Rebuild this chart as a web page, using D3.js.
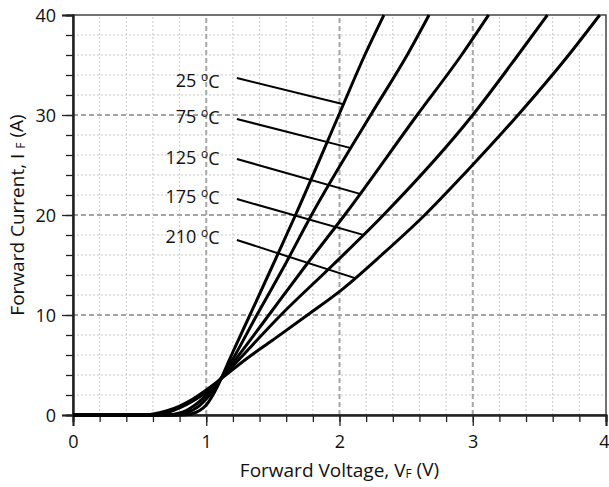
<!DOCTYPE html>
<html>
<head>
<meta charset="utf-8">
<script src="https://cdn.jsdelivr.net/npm/d3@7"></script>
<style>
  html, body { margin: 0; padding: 0; background: #fff; }
  svg text { font-family: "Open Sans", "Noto Sans", sans-serif; fill: #111; }
</style>
</head>
<body>
<div id="chart"></div>
<script>
const width = 609;
const height = 487;
const margin = { top: 15, right: 3, bottom: 72, left: 73 };

// temperatures of the five curves
const temps = ["25", "75", "125", "175", "210"];

// forward voltage (V) / forward current (A)
const v25 = [0, 0.8, 0.85, 0.9, 0.95, 1.0, 1.05, 1.1, 1.15, 1.2, 1.3, 1.5, 1.67, 1.995, 2.19, 2.333];
const i25 = [0, 0, 0.02, 0.15, 0.45, 1.0, 2.0, 3.3, 4.8, 6.3, 9.2, 15, 20, 30, 36, 40];

const v75 = [0, 0.75, 0.8, 0.85, 0.9, 0.95, 1.0, 1.05, 1.1, 1.2, 1.38, 1.59, 1.79, 2.234, 2.508, 2.672];
const i75 = [0, 0, 0.05, 0.2, 0.5, 0.95, 1.6, 2.4, 3.4, 5.6, 10, 15, 20, 30, 36, 40];

const v125 = [0, 0.7, 0.75, 0.8, 0.85, 0.9, 0.95, 1.0, 1.05, 1.1, 1.2, 1.47, 1.75, 2.05, 2.583, 2.916, 3.119];
const i125 = [0, 0, 0.05, 0.2, 0.45, 0.85, 1.35, 2.0, 2.7, 3.5, 5.2, 10, 15, 20.2, 30, 36, 40];

const v175 = [0, 0.6, 0.65, 0.7, 0.8, 0.9, 1.0, 1.1, 1.2, 1.56, 1.95, 2.33, 3.0, 3.34, 3.56];
const i175 = [0, 0, 0.05, 0.2, 0.7, 1.4, 2.3, 3.5, 4.9, 10, 15, 20, 30, 36, 40];

const v210 = [0, 0.5, 0.55, 0.6, 0.7, 0.8, 0.9, 1.0, 1.1, 1.3, 1.5, 1.76, 2.03, 2.316, 2.64, 2.95, 3.34, 3.72, 3.953];
const i210 = [0, 0, 0.03, 0.1, 0.4, 0.9, 1.6, 2.5, 3.5, 5.6, 7.5, 10, 12.67, 16, 20, 24.3, 30, 36, 40];

const voltages = [v25, v75, v125, v175, v210];
const currents = [i25, i75, i125, i175, i210];

// label / leader positions, in data units
const labelV = 1.10;
const labelI = [33.4, 29.8, 25.7, 21.8, 17.8];
const leaderStartV = 1.23;
const leaderStartI = [33.7, 29.6, 25.6, 21.6, 17.5];
const leaderEndV = [2.03, 2.087, 2.154, 2.179, 2.117];

const xTicks = [0, 1, 2, 3, 4];
const yTicks = [0, 10, 20, 30, 40];

const svg = d3.select("#chart").append("svg")
    .attr("width", width)
    .attr("height", height);

const x = d3.scaleLinear().domain([0, 4]).range([margin.left, width - margin.right]);
const y = d3.scaleLinear().domain([0, 40]).range([height - margin.bottom, margin.top]);

const minorX = d3.range(0, 4.001, 0.2);
const minorY = d3.range(0, 40.001, 2);

// minor grid
const grid = svg.append("g");
grid.selectAll("line.mx")
    .data(minorX.filter(d => d > 0 && d < 4 && Math.abs(d - Math.round(d)) > 1e-6))
    .join("line")
    .attr("x1", d => x(d)).attr("x2", d => x(d))
    .attr("y1", y(0)).attr("y2", y(40))
    .attr("stroke", "#c8c8c8").attr("stroke-width", 1).attr("stroke-dasharray", "2,2");
grid.selectAll("line.my")
    .data(minorY.filter(d => d > 0 && d < 40 && d % 10 !== 0))
    .join("line")
    .attr("x1", x(0)).attr("x2", x(4))
    .attr("y1", d => y(d)).attr("y2", d => y(d))
    .attr("stroke", "#c8c8c8").attr("stroke-width", 1).attr("stroke-dasharray", "2,2");

// major grid
grid.selectAll("line.Mx")
    .data([1, 2, 3])
    .join("line")
    .attr("x1", d => x(d)).attr("x2", d => x(d))
    .attr("y1", y(0)).attr("y2", y(40))
    .attr("stroke", "#a6a6a6").attr("stroke-width", 2).attr("stroke-dasharray", "5,3");
grid.selectAll("line.My")
    .data([10, 20, 30])
    .join("line")
    .attr("x1", x(0)).attr("x2", x(4))
    .attr("y1", d => y(d)).attr("y2", d => y(d))
    .attr("stroke", "#a6a6a6").attr("stroke-width", 2).attr("stroke-dasharray", "5,3");

// frame
svg.append("rect")
    .attr("x", x(0)).attr("y", y(40))
    .attr("width", x(4) - x(0)).attr("height", y(0) - y(40))
    .attr("fill", "none").attr("stroke", "#444").attr("stroke-width", 1.5);

// axes
const xMinorAxis = svg.append("g")
    .attr("transform", `translate(0,${y(0)})`)
    .call(d3.axisBottom(x).tickValues(minorX).tickSize(7).tickFormat(""));
const xAxis = svg.append("g")
    .attr("transform", `translate(0,${y(0)})`)
    .call(d3.axisBottom(x).tickValues(xTicks).tickSize(11).tickPadding(9).tickFormat(d3.format("d")));
const yMinorAxis = svg.append("g")
    .attr("transform", `translate(${x(0)},0)`)
    .call(d3.axisLeft(y).tickValues(minorY).tickSize(7).tickFormat(""));
const yAxis = svg.append("g")
    .attr("transform", `translate(${x(0)},0)`)
    .call(d3.axisLeft(y).tickValues(yTicks).tickSize(11).tickPadding(6).tickFormat(d3.format("d")));

[xMinorAxis, xAxis, yMinorAxis, yAxis].forEach(a => {
    a.selectAll("path.domain").attr("stroke", "#222").attr("stroke-width", 2);
    a.selectAll(".tick line").attr("stroke", "#222").attr("stroke-width", 1.3);
    a.selectAll(".tick text").attr("font-size", 18).attr("fill", "#111")
        .attr("font-family", "'Open Sans', sans-serif");
});
yAxis.selectAll(".tick text").attr("dy", "0.36em");
// the last label sits on the page edge, keep it inside
xAxis.selectAll(".tick text").filter(d => d === 4).attr("dx", "-2");

// curves
svg.append("clipPath").attr("id", "plotclip")
    .append("rect")
    .attr("x", x(0)).attr("y", y(40) - 2)
    .attr("width", x(4) - x(0)).attr("height", y(0) - y(40) + 4);

const line = d3.line()
    .x(d => x(d[0]))
    .y(d => y(d[1]))
    .curve(d3.curveMonotoneX);

const series = temps.map((t, k) => voltages[k].map((v, j) => [v, currents[k][j]]));

svg.append("g")
    .attr("clip-path", "url(#plotclip)")
    .selectAll("path")
    .data(series)
    .join("path")
    .attr("d", line)
    .attr("fill", "none")
    .attr("stroke", "#000")
    .attr("stroke-width", 3)
    .attr("stroke-linejoin", "round");

// current on a curve at a voltage (linear between read points)
function currentAt(k, v) {
    const vs = voltages[k], is = currents[k];
    const j = Math.max(1, d3.bisectLeft(vs, v));
    const t = (v - vs[j - 1]) / (vs[j] - vs[j - 1]);
    return is[j - 1] + t * (is[j] - is[j - 1]);
}

// leader lines
svg.append("g")
    .selectAll("line")
    .data(temps)
    .join("line")
    .attr("x1", x(leaderStartV))
    .attr("y1", (d, k) => y(leaderStartI[k]))
    .attr("x2", (d, k) => x(leaderEndV[k]))
    .attr("y2", (d, k) => y(currentAt(k, leaderEndV[k])))
    .attr("stroke", "#000")
    .attr("stroke-width", 2);

// labels
const labels = svg.append("g")
    .selectAll("text")
    .data(temps)
    .join("text")
    .attr("x", x(labelV))
    .attr("y", (d, k) => y(labelI[k]))
    .attr("dy", "0.36em")
    .attr("text-anchor", "end")
    .attr("font-size", 18);
labels.append("tspan").text(d => d + " ");
labels.append("tspan").attr("font-size", 12).attr("dy", "-0.55em").text("o");
labels.append("tspan").attr("dy", "0.37em").text("C");

// axis titles
const xTitle = svg.append("text")
    .attr("x", x(2))
    .attr("y", 477)
    .attr("text-anchor", "middle")
    .attr("font-size", 19);
xTitle.append("tspan").text("Forward Voltage, V");
xTitle.append("tspan").attr("font-size", 12).attr("dy", "0.1em").text("F");
xTitle.append("tspan").attr("dy", "-0.1em").text(" (V)");

const yTitle = svg.append("text")
    .attr("transform", `translate(24,${y(20)}) rotate(-90)`)
    .attr("text-anchor", "middle")
    .attr("font-size", 19);
yTitle.append("tspan").text("Forward Current, I ");
yTitle.append("tspan").attr("font-size", 12).attr("dy", "0.1em").text("F");
yTitle.append("tspan").attr("dy", "-0.1em").text(" (A)");
</script>
</body>
</html>
